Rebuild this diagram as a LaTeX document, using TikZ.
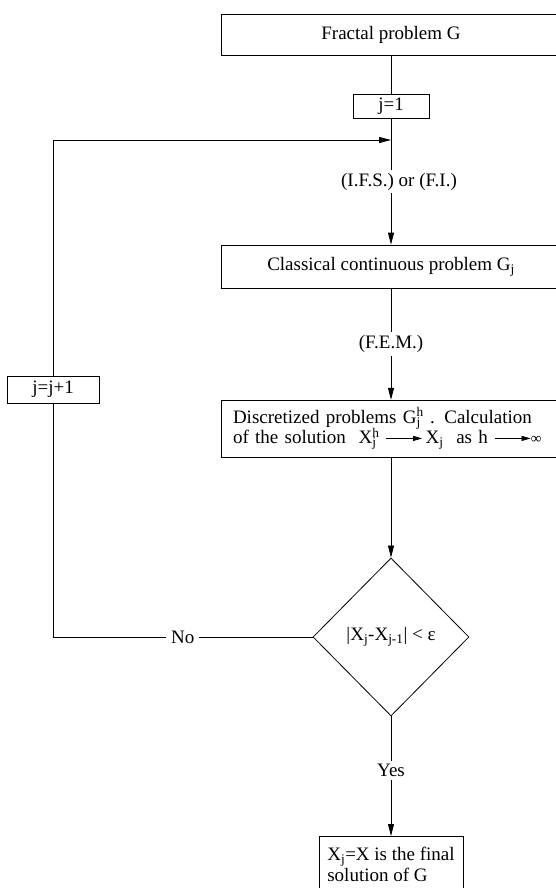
\documentclass[tikz,border=0pt]{standalone}
\usepackage{fontspec}
\setmainfont{Liberation Serif}
\usepackage{tikz}
\usetikzlibrary{arrows.meta,shapes.geometric}

\newcommand{\subsup}[2]{\rlap{\textsubscript{#1}}\textsuperscript{#2}}
\newcommand{\limarrow}{\tikz[baseline=-0.6ex]\draw[line width=0.7pt,-{Triangle[length=9pt,width=5pt]}] (0pt,0pt) -- (36pt,0pt);}
\protected\def\tightlines{\lineskiplimit=-30pt\relax}

\begin{document}
\begin{tikzpicture}[x=1pt, y=-1pt, line width=0.8pt,
    box/.style={draw, fill=white, inner sep=0pt, font=\fontsize{19}{21}\selectfont},
    lab/.style={fill=white, inner sep=3pt, font=\fontsize{19}{21}\selectfont},
    arr/.style={-{Triangle[length=12pt,width=6pt]}}]
    \useasboundingbox (0,0) rectangle (555,888);
    \fill[white] (0,0) rectangle (555,888);

    \node[box, minimum width=340pt, minimum height=41pt] (fractal) at (391,34.5) {Fractal problem G};
    \node[box, minimum width=76pt, minimum height=24pt] (jone) at (391,106) {j=1};
    \node[box, minimum width=340pt, minimum height=43pt] (classical) at (391,266.5) {Classical continuous problem G\textsubscript{j}};
    \node[box, text width=316pt, inner xsep=12pt, minimum height=57pt, align=left,
          font=\fontsize{19}{20.5}\selectfont\tightlines] (discrete) at (391,428.5)
        {Discretized problems G\subsup{j}{h}\ . Calculation\\
         of the solution\ \ X\subsup{j}{h}\ \limarrow\,X\textsubscript{j}\ \ as h\ \limarrow{\fontsize{15}{15}\selectfont ∞}};
    \node[box, shape=diamond, minimum width=156pt, minimum height=158pt] (decision) at (391,637)
        {|X\textsubscript{j}-X\textsubscript{j-1}| < ε};
    \node[box, minimum width=144pt, minimum height=56pt, align=left, anchor=north] (final) at (391,836)
        {X\textsubscript{j}=X is the final\\ solution of G};
    \node[box, minimum width=92pt, minimum height=27pt] (jinc) at (53,389.5) {j=j+1};

    \coordinate (corner) at (53,637);
    \coordinate (join) at (391,140);

    \draw (fractal) -- (jone);
    \draw[arr] (jone) -- node[lab, xshift=8pt] (ifs) {(I.F.S.) or (F.I.)} (classical);
    \draw[arr] (classical) -- node[lab] (fem) {(F.E.M.)} (discrete);
    \draw[arr] (discrete) -- (decision);
    \draw[arr] (decision) -- node[lab, pos=0.45] (yes) {Yes} (final);
    \draw (decision) -- node[lab, inner xsep=5pt] (no) {No} (corner) -- (jinc);
    \draw[arr] (jinc) |- (join);
\end{tikzpicture}
\end{document}
